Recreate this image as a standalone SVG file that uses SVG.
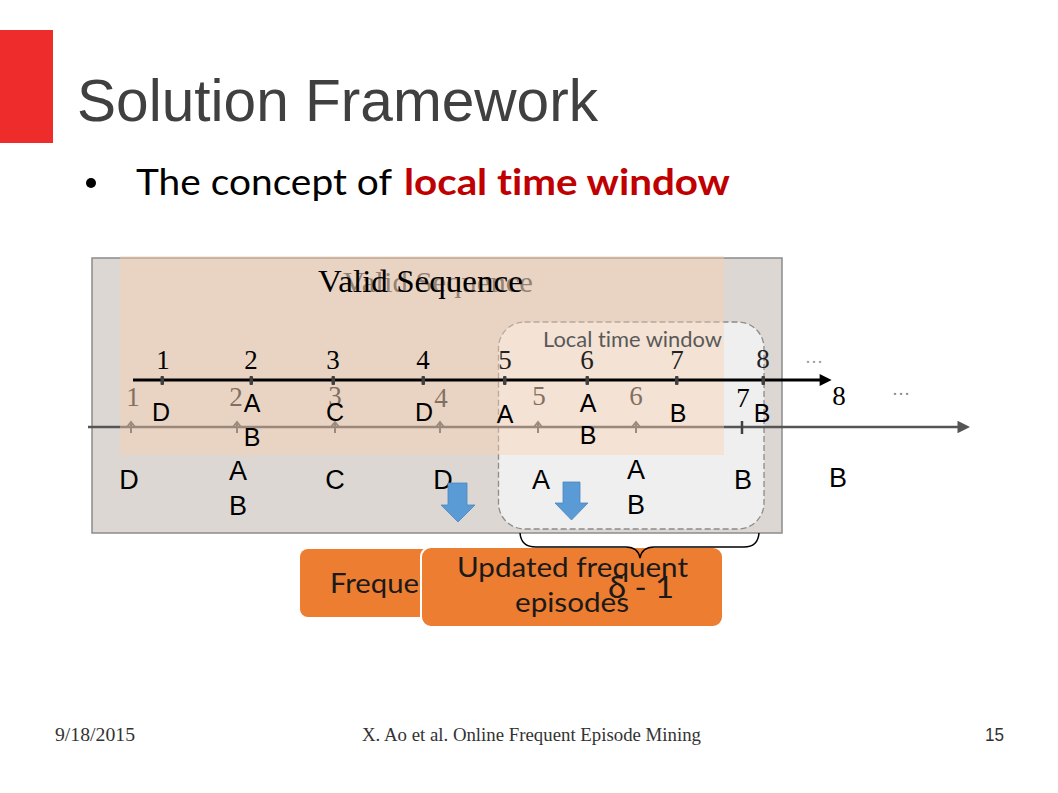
<svg xmlns="http://www.w3.org/2000/svg" width="1058" height="793" viewBox="0 0 1058 793">
<defs>
<style>
.serif{font-family:"Liberation Serif","Times New Roman",serif}
.sans{font-family:"Liberation Sans",Arial,sans-serif}
.cal{font-family:Lato,"Open Sans","Noto Sans",sans-serif;font-variant-ligatures:none}
.num{font-family:"Liberation Serif",serif;font-size:27px;text-anchor:middle}
.gnum{font-family:"Liberation Serif",serif;font-size:27px;text-anchor:middle;fill:#2a2a2a}
.let{font-family:"Liberation Sans",Arial,sans-serif;font-size:25px;text-anchor:middle;fill:#000}
.blet{font-family:"Liberation Sans",Arial,sans-serif;font-size:27px;text-anchor:middle;fill:#000}
.tick{fill:#404040}
.gtick{stroke:#595959;stroke-width:2;fill:none}
.blue{fill:#5b9bd5;stroke:#4a86c0;stroke-width:0.8}
.orange{fill:#ed7d31}
</style>
<marker id="ahBlack" viewBox="0 0 10 10" refX="2" refY="5" markerWidth="5" markerHeight="4" orient="auto" markerUnits="strokeWidth">
<path d="M0,0 L10,5 L0,10 z" fill="#000"/>
</marker>
<marker id="ahGray" viewBox="0 0 10 10" refX="2" refY="5" markerWidth="5.5" markerHeight="5" orient="auto" markerUnits="strokeWidth">
<path d="M0,0 L10,5 L0,10 z" fill="#555"/>
</marker>
</defs>
<rect width="1058" height="793" fill="#fff"/>

<g id="title">
<rect x="0" y="30" width="53" height="113" fill="#ee2c2c"/>
<text x="77" y="121" class="sans" font-size="59" fill="#404040" textLength="521" lengthAdjust="spacingAndGlyphs">Solution Framework</text>
</g>

<g id="bullet">
<circle cx="91" cy="183" r="5" fill="#000"/>
<text x="136" y="195" class="cal" font-size="36" fill="#000" textLength="256" lengthAdjust="spacingAndGlyphs">The concept of</text>
<text x="404" y="195" class="cal" font-size="36" font-weight="bold" fill="#c00000" textLength="326" lengthAdjust="spacingAndGlyphs">local time window</text>
</g>

<g id="valid-sequence-panel">
<rect x="92" y="258" width="690" height="275" fill="#ddd7d3" stroke="#8c8c8c" stroke-width="1.5"/>
</g>

<g id="local-time-window">
<rect x="498.5" y="322" width="265.5" height="207" rx="26" fill="#efefef" stroke="#8c8c8c" stroke-width="1.3" stroke-dasharray="6 3"/>
</g>

<g id="stream-timeline">
<line x1="88" y1="427" x2="960" y2="427" stroke="#555" stroke-width="2.5" marker-end="url(#ahGray)"/>
<path class="gtick" d="M131,433 V423 M127,427 L131,422 L135,427"/>
<path class="gtick" d="M237,433 V423 M233,427 L237,422 L241,427"/>
<path class="gtick" d="M335,433 V423 M331,427 L335,422 L339,427"/>
<path class="gtick" d="M440,433 V423 M436,427 L440,422 L444,427"/>
<path class="gtick" d="M538,433 V423 M534,427 L538,422 L542,427"/>
<path class="gtick" d="M636,433 V423 M632,427 L636,422 L640,427"/>
<line x1="742" y1="421" x2="742" y2="434" stroke="#404040" stroke-width="2.5"/>
<text class="gnum" x="133" y="406">1</text>
<text class="gnum" x="236" y="406">2</text>
<text class="gnum" x="335" y="405">3</text>
<text class="gnum" x="441" y="407">4</text>
<text class="gnum" x="539" y="405">5</text>
<text class="gnum" x="636" y="405">6</text>
<text class="num" x="743" y="407" fill="#000">7</text>
<text class="num" x="839" y="405" fill="#000">8</text>
<text x="901" y="395" class="serif" font-size="18" text-anchor="middle" fill="#888">…</text>
<text class="blet" x="129" y="489">D</text>
<text class="blet" x="238" y="480">A</text>
<text class="blet" x="238" y="515">B</text>
<text class="blet" x="335" y="489">C</text>
<text class="blet" x="443" y="489">D</text>
<text class="blet" x="541" y="489">A</text>
<text class="blet" x="636" y="479">A</text>
<text class="blet" x="636" y="514">B</text>
<text class="blet" x="743" y="489">B</text>
<text class="blet" x="838" y="487">B</text>
</g>

<g id="valid-sequence-label-ghost">
<text x="343" y="292" class="serif" font-size="29" fill="#4a4a4a" textLength="190" lengthAdjust="spacingAndGlyphs">Valid Sequence</text>
</g>

<g id="valid-sequence-overlay">
<rect x="120" y="256" width="604" height="199" fill="#fbd0ae" fill-opacity="0.42"/>
</g>

<g id="valid-sequence-label">
<text x="318" y="292" class="serif" font-size="32" fill="#000" textLength="205" lengthAdjust="spacingAndGlyphs">Valid Sequence</text>
</g>

<g id="local-time-window-label">
<text x="543" y="347" class="cal" font-size="21" fill="#595959" textLength="179" lengthAdjust="spacingAndGlyphs">Local time window</text>
</g>

<g id="window-timeline">
<line x1="133" y1="380" x2="822" y2="380" stroke="#000" stroke-width="3" marker-end="url(#ahBlack)"/>
<rect class="tick" x="160.5" y="376" width="3.5" height="9" rx="1"/>
<rect class="tick" x="249.5" y="376" width="3.5" height="9" rx="1"/>
<rect class="tick" x="331.5" y="376" width="3.5" height="9" rx="1"/>
<rect class="tick" x="421.5" y="376" width="3.5" height="9" rx="1"/>
<rect class="tick" x="503" y="376" width="3.5" height="9" rx="1"/>
<rect class="tick" x="585.5" y="376" width="3.5" height="9" rx="1"/>
<rect class="tick" x="675" y="376" width="3.5" height="9" rx="1"/>
<rect class="tick" x="761.5" y="376" width="3.5" height="9" rx="1"/>
<text class="num" x="163" y="369" fill="#000">1</text>
<text class="num" x="251" y="369" fill="#000">2</text>
<text class="num" x="333" y="369" fill="#000">3</text>
<text class="num" x="423" y="369" fill="#000">4</text>
<text class="num" x="505" y="369" fill="#222">5</text>
<text class="num" x="587" y="369" fill="#222">6</text>
<text class="num" x="677" y="369" fill="#222">7</text>
<text class="num" x="763" y="368" fill="#222">8</text>
<text x="814" y="363" class="serif" font-size="18" text-anchor="middle" fill="#999">…</text>
<text class="let" x="161" y="421">D</text>
<text class="let" x="252" y="412">A</text>
<text class="let" x="252" y="446">B</text>
<text class="let" x="335" y="421">C</text>
<text class="let" x="424" y="421">D</text>
<text class="let" x="505" y="423">A</text>
<text class="let" x="588" y="412">A</text>
<text class="let" x="588" y="444">B</text>
<text class="let" x="678" y="422">B</text>
<text class="let" x="762" y="422">B</text>
</g>

<g id="frequent-episodes">
<rect class="orange" x="300" y="549" width="132" height="68" rx="8"/>
<text x="330" y="593" class="cal" font-size="27" fill="#1a1a1a" textLength="89" lengthAdjust="spacingAndGlyphs">Freque</text>
</g>

<g id="updated-frequent-episodes">
<rect class="orange" x="421" y="547" width="302" height="80" rx="10" stroke="#fff" stroke-width="2"/>
<text x="457" y="577" class="cal" font-size="27" fill="#1a1a1a" textLength="231" lengthAdjust="spacingAndGlyphs">Updated frequent</text>
<text x="515" y="612" class="cal" font-size="27" fill="#1a1a1a" textLength="114" lengthAdjust="spacingAndGlyphs">episodes</text>
<text x="608" y="598" class="cal" font-size="31" fill="#1a1a1a" textLength="66" lengthAdjust="spacingAndGlyphs">δ - 1</text>
</g>

<g id="connectors">
<path d="M520,533 Q521,547 536,547 L626,547 Q638,547 640,558 Q642,547 654,547 L744,547 Q758,547 759,533" fill="none" stroke="#000" stroke-width="1.5"/>
<polygon class="blue" points="448,483 467,483 467,505 475,505 458,522 441,505 448,505"/>
<polygon class="blue" points="563,482 580,482 580,503 588,503 571.5,520 555,503 563,503"/>
</g>

<g id="footer">
<text x="55" y="741" class="serif" font-size="19" fill="#333" textLength="80" lengthAdjust="spacingAndGlyphs">9/18/2015</text>
<text x="362" y="741" class="serif" font-size="19" fill="#333" textLength="339" lengthAdjust="spacingAndGlyphs">X. Ao et al. Online Frequent Episode Mining</text>
<text x="985" y="741" class="sans" font-size="19" fill="#333" textLength="19" lengthAdjust="spacingAndGlyphs">15</text>
</g>
</svg>
